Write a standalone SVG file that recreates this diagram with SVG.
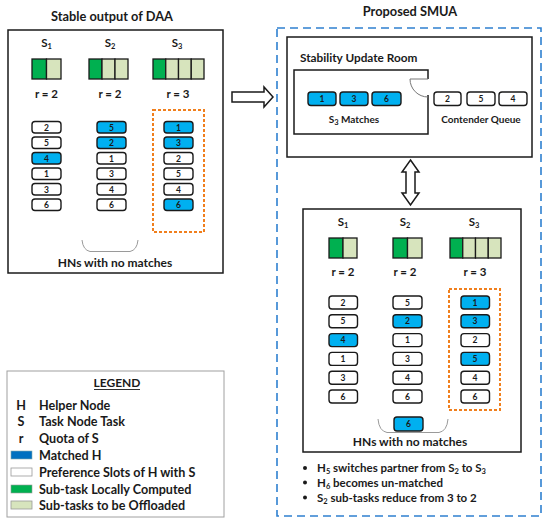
<svg xmlns="http://www.w3.org/2000/svg" width="550" height="526" viewBox="0 0 550 526">
<style>
text{font-family:Lato,"Liberation Sans",sans-serif;font-weight:bold;fill:#1a1a1a}
.t{font-size:12.8px;text-anchor:middle}
.lab{font-size:11.5px;text-anchor:middle}
.num{font-size:8.5px;text-anchor:middle}
.txt{font-size:11.5px}
.lt{font-size:12.6px}
.box{fill:#fff;stroke:#1a1a1a;stroke-width:1.5}
.slot{fill:#fff;stroke:#1a1a1a;stroke-width:1.4}
.m{fill:#00B0F0;stroke:#1a1a1a;stroke-width:1.4}
.g{fill:#00B050;stroke:#1a1a1a;stroke-width:1.3}
.lg{fill:#D7E4BD;stroke:#1a1a1a;stroke-width:1.3}
.dot{fill:none;stroke:#F07F1D;stroke-width:2;stroke-dasharray:3 2}
.brace{fill:none;stroke:#9a9a9a;stroke-width:1}
.sub{font-size:7.5px}
</style>

<!-- Left panel -->
<g id="daa">
<text class="t" x="112" y="21">Stable output of DAA</text>
<rect class="box" x="8" y="30" width="215" height="243"/>
<text class="lab" x="46.5" y="47">S<tspan class="sub" dy="2">1</tspan></text>
<text class="lab" x="110" y="47">S<tspan class="sub" dy="2">2</tspan></text>
<text class="lab" x="177" y="47">S<tspan class="sub" dy="2">3</tspan></text>
<rect class="g" x="32" y="59" width="14.5" height="20"/><rect class="lg" x="46.5" y="59" width="14.5" height="20"/>
<rect class="g" x="89" y="59" width="13" height="20"/><rect class="lg" x="102" y="59" width="13" height="20"/><rect class="lg" x="115" y="59" width="13" height="20"/>
<rect class="g" x="153" y="59" width="12.75" height="20"/><rect class="lg" x="165.75" y="59" width="12.75" height="20"/><rect class="lg" x="178.5" y="59" width="12.75" height="20"/><rect class="lg" x="191.25" y="59" width="12.75" height="20"/>
<text class="lab" x="46.5" y="98">r = 2</text>
<text class="lab" x="110" y="98">r = 2</text>
<text class="lab" x="178" y="98">r = 3</text>
</g>
<g id="daa-s1">
<rect class="slot" x="32" y="121.5" width="29" height="11.5" rx="3"/><text class="num" x="46.5" y="130.5">2</text>
<rect class="slot" x="32" y="137" width="29" height="11.5" rx="3"/><text class="num" x="46.5" y="146">5</text>
<rect class="m" x="32" y="152.5" width="29" height="11.5" rx="3"/><text class="num" x="46.5" y="161.5">4</text>
<rect class="slot" x="32" y="168" width="29" height="11.5" rx="3"/><text class="num" x="46.5" y="177">1</text>
<rect class="slot" x="32" y="183.5" width="29" height="11.5" rx="3"/><text class="num" x="46.5" y="192.5">3</text>
<rect class="slot" x="32" y="199" width="29" height="11.5" rx="3"/><text class="num" x="46.5" y="208">6</text>
</g>
<g id="daa-s2">
<rect class="m" x="97" y="121.5" width="29" height="11.5" rx="3"/><text class="num" x="111.5" y="130.5">5</text>
<rect class="m" x="97" y="137" width="29" height="11.5" rx="3"/><text class="num" x="111.5" y="146">2</text>
<rect class="slot" x="97" y="152.5" width="29" height="11.5" rx="3"/><text class="num" x="111.5" y="161.5">1</text>
<rect class="slot" x="97" y="168" width="29" height="11.5" rx="3"/><text class="num" x="111.5" y="177">3</text>
<rect class="slot" x="97" y="183.5" width="29" height="11.5" rx="3"/><text class="num" x="111.5" y="192.5">4</text>
<rect class="slot" x="97" y="199" width="29" height="11.5" rx="3"/><text class="num" x="111.5" y="208">6</text>
</g>
<g id="daa-s3">
<rect class="dot" x="153" y="110" width="51" height="122"/>
<rect class="m" x="164" y="121.5" width="29" height="11.5" rx="3"/><text class="num" x="178.5" y="130.5">1</text>
<rect class="m" x="164" y="137" width="29" height="11.5" rx="3"/><text class="num" x="178.5" y="146">3</text>
<rect class="slot" x="164" y="152.5" width="29" height="11.5" rx="3"/><text class="num" x="178.5" y="161.5">2</text>
<rect class="slot" x="164" y="168" width="29" height="11.5" rx="3"/><text class="num" x="178.5" y="177">5</text>
<rect class="slot" x="164" y="183.5" width="29" height="11.5" rx="3"/><text class="num" x="178.5" y="192.5">4</text>
<rect class="m" x="164" y="199" width="29" height="11.5" rx="3"/><text class="num" x="178.5" y="208">6</text>
</g>
<g id="daa-nomatch">
<path class="brace" d="M82,240 Q83,250 90,251.5 H130 Q137,250 138,240"/>
<text class="lab" x="115" y="267" style="font-size:12px">HNs with no matches</text>
</g>

<!-- connectors -->
<g id="connectors">
<polygon points="232,92 264,92 264,87 273,97 264,107 264,102 232,102" fill="#fff" stroke="#1a1a1a" stroke-width="1.5"/>
<polygon points="410.5,160 419,172 415,172 415,193 419,193 410.5,205 402,193 406,193 406,172 402,172" fill="#fff" stroke="#1a1a1a" stroke-width="1.5"/>
</g>

<!-- Right panel -->
<g id="smua">
<text class="t" x="410" y="16">Proposed SMUA</text>
<rect x="277" y="28" width="264" height="488" fill="none" stroke="#2F80D0" stroke-width="1.6" stroke-dasharray="8 5"/>
</g>
<g id="room">
<rect class="box" x="287" y="37" width="245" height="120"/>
<text class="txt" x="300" y="62" style="font-size:11.8px">Stability Update Room</text>
<path d="M428,79 V70 H294 V134 H428 V95" fill="none" stroke="#1a1a1a" stroke-width="1.5"/>
<path d="M428,79 H410 A18,18 0 0 0 428,97" fill="none" stroke="#777" stroke-width="1"/>
<rect class="m" x="308" y="92" width="28" height="13.5" rx="3"/><text class="num" x="322" y="102">1</text>
<rect class="m" x="340" y="92" width="28" height="13.5" rx="3"/><text class="num" x="354" y="102">3</text>
<rect class="m" x="372" y="92" width="29" height="13.5" rx="3"/><text class="num" x="386.5" y="102">6</text>
<text class="lab" x="354" y="123" style="font-size:10px">S<tspan class="sub" dy="2">3</tspan><tspan dy="-2"> Matches</tspan></text>
<rect class="slot" x="434" y="92" width="27" height="13.5" rx="3"/><text class="num" x="447.5" y="102">2</text>
<rect class="slot" x="467" y="92" width="28" height="13.5" rx="3"/><text class="num" x="481" y="102">5</text>
<rect class="slot" x="499" y="92" width="28" height="13.5" rx="3"/><text class="num" x="513" y="102">4</text>
<text class="lab" x="481" y="123" style="font-size:10px">Contender Queue</text>
</g>
<g id="lower">
<rect class="box" x="303" y="209" width="218" height="243"/>
<text class="lab" x="343" y="226">S<tspan class="sub" dy="2">1</tspan></text>
<text class="lab" x="405" y="226">S<tspan class="sub" dy="2">2</tspan></text>
<text class="lab" x="474" y="226">S<tspan class="sub" dy="2">3</tspan></text>
<rect class="g" x="329" y="238" width="14" height="20"/><rect class="lg" x="343" y="238" width="14" height="20"/>
<rect class="g" x="393" y="238" width="14.5" height="20"/><rect class="lg" x="407.5" y="238" width="14.5" height="20"/>
<rect class="g" x="450" y="238" width="12.75" height="20"/><rect class="lg" x="462.75" y="238" width="12.75" height="20"/><rect class="lg" x="475.5" y="238" width="12.75" height="20"/><rect class="lg" x="488.25" y="238" width="12.75" height="20"/>
<text class="lab" x="343" y="276">r = 2</text>
<text class="lab" x="405" y="276">r = 2</text>
<text class="lab" x="475" y="276">r = 3</text>
</g>
<g id="lower-s1">
<rect class="slot" x="329" y="296" width="28.5" height="13" rx="3"/><text class="num" x="343" y="305.5">2</text>
<rect class="slot" x="329" y="314.8" width="28.5" height="13" rx="3"/><text class="num" x="343" y="324.3">5</text>
<rect class="m" x="329" y="333.6" width="28.5" height="13" rx="3"/><text class="num" x="343" y="343.1">4</text>
<rect class="slot" x="329" y="352.4" width="28.5" height="13" rx="3"/><text class="num" x="343" y="361.9">1</text>
<rect class="slot" x="329" y="371.2" width="28.5" height="13" rx="3"/><text class="num" x="343" y="380.7">3</text>
<rect class="slot" x="329" y="390" width="28.5" height="13" rx="3"/><text class="num" x="343" y="399.5">6</text>
</g>
<g id="lower-s2">
<rect class="slot" x="393" y="296" width="29" height="13" rx="3"/><text class="num" x="407.5" y="305.5">5</text>
<rect class="m" x="393" y="314.8" width="29" height="13" rx="3"/><text class="num" x="407.5" y="324.3">2</text>
<rect class="slot" x="393" y="333.6" width="29" height="13" rx="3"/><text class="num" x="407.5" y="343.1">1</text>
<rect class="slot" x="393" y="352.4" width="29" height="13" rx="3"/><text class="num" x="407.5" y="361.9">3</text>
<rect class="slot" x="393" y="371.2" width="29" height="13" rx="3"/><text class="num" x="407.5" y="380.7">4</text>
<rect class="slot" x="393" y="390" width="29" height="13" rx="3"/><text class="num" x="407.5" y="399.5">6</text>
</g>
<g id="lower-s3">
<rect class="dot" x="449" y="289" width="51" height="121"/>
<rect class="m" x="461" y="296" width="28.5" height="13" rx="3"/><text class="num" x="475" y="305.5">1</text>
<rect class="m" x="461" y="314.8" width="28.5" height="13" rx="3"/><text class="num" x="475" y="324.3">3</text>
<rect class="slot" x="461" y="333.6" width="28.5" height="13" rx="3"/><text class="num" x="475" y="343.1">2</text>
<rect class="m" x="461" y="352.4" width="28.5" height="13" rx="3"/><text class="num" x="475" y="361.9">5</text>
<rect class="slot" x="461" y="371.2" width="28.5" height="13" rx="3"/><text class="num" x="475" y="380.7">4</text>
<rect class="slot" x="461" y="390" width="28.5" height="13" rx="3"/><text class="num" x="475" y="399.5">6</text>
</g>
<g id="lower-nomatch">
<path class="brace" d="M378,419 Q379,431 387,432.5 H439 Q447,431 448,419"/>
<rect class="m" x="394" y="417" width="29" height="14" rx="3"/><text class="num" x="408.5" y="427">6</text>
<text class="lab" x="410" y="446" style="font-size:12px">HNs with no matches</text>
</g>
<g id="notes">
<circle cx="305" cy="468" r="2" fill="#1a1a1a"/>
<text class="txt" x="317" y="472">H<tspan class="sub" dy="2">5</tspan><tspan dy="-2"> switches partner from S</tspan><tspan class="sub" dy="2">2</tspan><tspan dy="-2"> to S</tspan><tspan class="sub" dy="2">3</tspan></text>
<circle cx="305" cy="482.5" r="2" fill="#1a1a1a"/>
<text class="txt" x="317" y="486.5">H<tspan class="sub" dy="2">6</tspan><tspan dy="-2"> becomes un-matched</tspan></text>
<circle cx="305" cy="497.5" r="2" fill="#1a1a1a"/>
<text class="txt" x="317" y="501.5">S<tspan class="sub" dy="2">2</tspan><tspan dy="-2"> sub-tasks reduce from 3 to 2</tspan></text>
</g>

<!-- Legend -->
<g id="legend">
<rect x="7" y="371" width="217" height="146" fill="#fff" stroke="#a0a0a0" stroke-width="1"/>
<text class="lab" x="117" y="387" style="font-size:12px">LEGEND</text>
<line x1="94" y1="389.5" x2="140" y2="389.5" stroke="#1a1a1a" stroke-width="0.9"/>
<text class="lt" x="21" y="409.5" text-anchor="middle">H</text><text class="lt" x="39" y="409.5">Helper Node</text>
<text class="lt" x="21" y="426" text-anchor="middle">S</text><text class="lt" x="39" y="426">Task Node Task</text>
<text class="lt" x="21" y="442.5" text-anchor="middle">r</text><text class="lt" x="39" y="442.5">Quota of S</text>
<rect x="11" y="451" width="21" height="8" fill="#0070C0" stroke="#8aa" stroke-width="0.6"/><text class="lt" x="39" y="459.5">Matched H</text>
<rect x="11" y="468" width="21" height="8" fill="#fff" stroke="#999" stroke-width="0.8"/><text class="lt" x="39" y="476.5">Preference Slots of H with S</text>
<rect x="11" y="485" width="21" height="8" fill="#00B050" stroke="#999" stroke-width="0.6"/><text class="lt" x="39" y="493.5">Sub-task Locally Computed</text>
<rect x="11" y="501" width="21" height="8" fill="#D7E4BD" stroke="#999" stroke-width="0.8"/><text class="lt" x="39" y="509.5">Sub-tasks to be Offloaded</text>
</g>
</svg>
